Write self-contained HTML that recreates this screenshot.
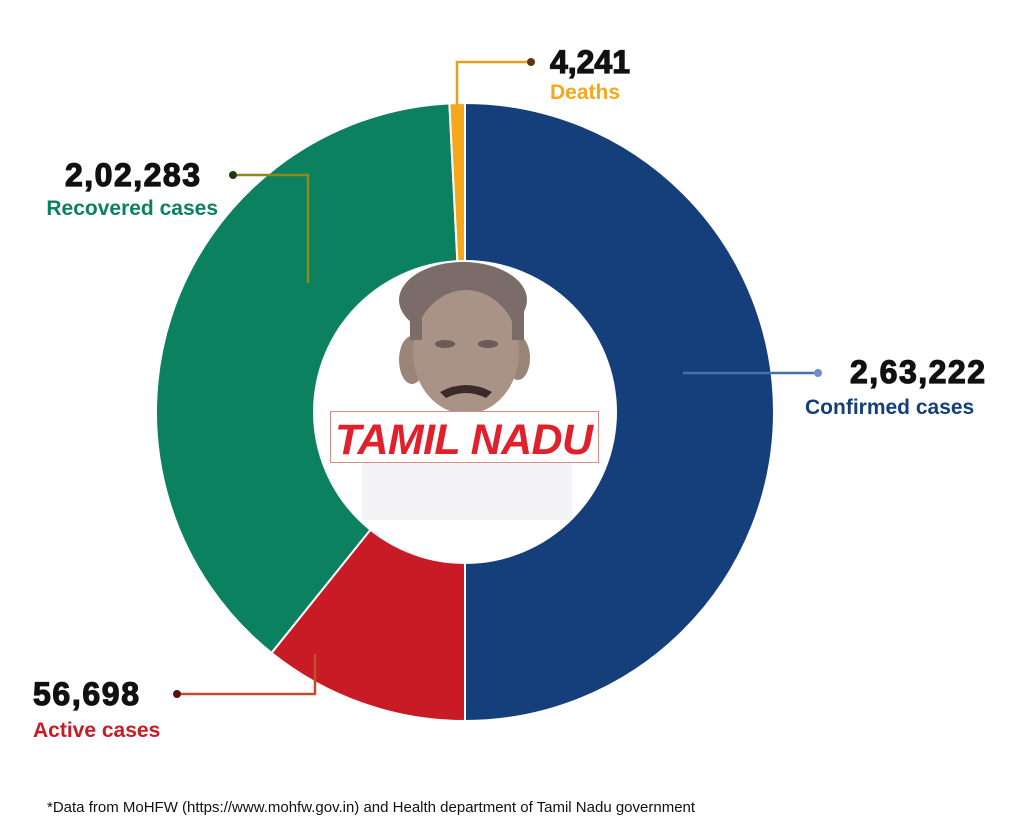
<!DOCTYPE html>
<html><head><meta charset="utf-8"><style>
body{margin:0;width:1024px;height:837px;background:#fff;overflow:hidden;font-family:"Liberation Sans",sans-serif}
svg{position:absolute;left:0;top:0}
</style></head><body>
<svg width="1024" height="837">
<g id="slices"></g>
<circle cx="465" cy="412" r="152" fill="#fff"/>
<g>
<rect x="362" y="462" width="210" height="58" fill="#f4f4f6"/>
<ellipse cx="463" cy="300" rx="64" ry="38" fill="#7b6b69"/>
<ellipse cx="412" cy="360" rx="13" ry="24" fill="#9a8478"/>
<ellipse cx="518" cy="358" rx="12" ry="22" fill="#9a8478"/>
<ellipse cx="466" cy="352" rx="53" ry="62" fill="#a99286"/>
<rect x="410" y="300" width="12" height="40" fill="#7b6b69"/>
<rect x="512" y="300" width="12" height="40" fill="#7b6b69"/>
<path d="M440 392 Q466 378 492 392 L486 398 Q466 388 446 398Z" fill="#3a2a28"/>
<ellipse cx="445" cy="344" rx="10" ry="4" fill="#6b5a55"/>
<ellipse cx="488" cy="344" rx="10" ry="4" fill="#6b5a55"/>
</g>
<rect x="330.5" y="411.5" width="268" height="51" fill="#fff" stroke="#d58a85"/>
<text x="464" y="454" text-anchor="middle" font-size="43" font-weight="bold" font-style="italic" fill="#e0202a" textLength="258">TAMIL NADU</text>
<g id="callouts"></g>
<text x="47" y="812" font-size="15" fill="#111">*Data from MoHFW (https://www.mohfw.gov.in) and Health department of Tamil Nadu government</text>
</svg>
<script>
const categories=["Confirmed cases","Active cases","Recovered cases","Deaths"];
const values=[263222,56698,202283,4241];
const labels=["2,63,222","56,698","2,02,283","4,241"];
const colors=["#143f7a","#c81b25","#0b8160","#f5a81c"];
const cx=465,cy=412,R=309;
const total=values.reduce((a,b)=>a+b,0);
const NS="http://www.w3.org/2000/svg";
function pt(a,r){return [cx+r*Math.sin(a),cy-r*Math.cos(a)];}
let a0=0;const g=document.getElementById('slices');
values.forEach((v,i)=>{
 const a1=a0+v/total*2*Math.PI;
 const p0=pt(a0,R),p1=pt(a1,R);
 const p=document.createElementNS(NS,'path');
 p.setAttribute('d',`M${cx},${cy}L${p0[0]},${p0[1]}A${R},${R} 0 ${a1-a0>Math.PI?1:0} 1 ${p1[0]},${p1[1]}Z`);
 p.setAttribute('fill',colors[i]);p.setAttribute('stroke','#fff');p.setAttribute('stroke-width','2');
 
 
 g.appendChild(p);a0=a1;
});
const c=document.getElementById('callouts');
const co=[
 {line:"M683,373 L818,373",dot:[818,373],lc:"#4a6fb0",dc:"#6d8fd0",num:[850,383,"start",135],lab:[805,414,"start"],tc:"#143f7a"},
 {line:"M315,654 L315,694 L177,694",dot:[177,694],lc:"#c0502a",dc:"#5a1010",num:[33,705,"start",106],lab:[33,737,"start"],tc:"#c81b25"},
 {line:"M308,283 L308,175 L233,175",dot:[233,175],lc:"#8a8a20",dc:"#1e3a10",num:[200,186,"end",135],lab:[218,215,"end"],tc:"#0b8160"},
 {line:"M457,105 L457,62 L531,62",dot:[531,62],lc:"#e0a020",dc:"#5a3a10",num:[550,73,"start",80],lab:[550,99,"start"],tc:"#f5a81c"}
];
co.forEach((o,i)=>{
 const n=categories[i].toLowerCase().replace(/ /g,'-');
 const l=document.createElementNS(NS,'path');l.setAttribute('d',o.line);l.setAttribute('fill','none');l.setAttribute('stroke',o.lc);l.setAttribute('stroke-width','2.5');
 
 c.appendChild(l);
 const d=document.createElementNS(NS,'circle');d.setAttribute('cx',o.dot[0]);d.setAttribute('cy',o.dot[1]);d.setAttribute('r','4');d.setAttribute('fill',o.dc);
 
 c.appendChild(d);
 const t=document.createElementNS(NS,'text');t.setAttribute('x',o.num[0]);t.setAttribute('y',o.num[1]);t.setAttribute('text-anchor',o.num[2]);t.setAttribute('font-size','32');t.setAttribute('font-weight','bold');t.setAttribute('fill','#111');t.setAttribute('stroke','#111');t.setAttribute('stroke-width','1.2');t.setAttribute('textLength',o.num[3]);t.textContent=labels[i];
 
 c.appendChild(t);
 const t2=document.createElementNS(NS,'text');t2.setAttribute('x',o.lab[0]);t2.setAttribute('y',o.lab[1]);t2.setAttribute('text-anchor',o.lab[2]);t2.setAttribute('font-size','21');t2.setAttribute('font-weight','bold');t2.setAttribute('fill',o.tc);t2.textContent=categories[i];
 
 c.appendChild(t2);
});
</script>
</body></html>
